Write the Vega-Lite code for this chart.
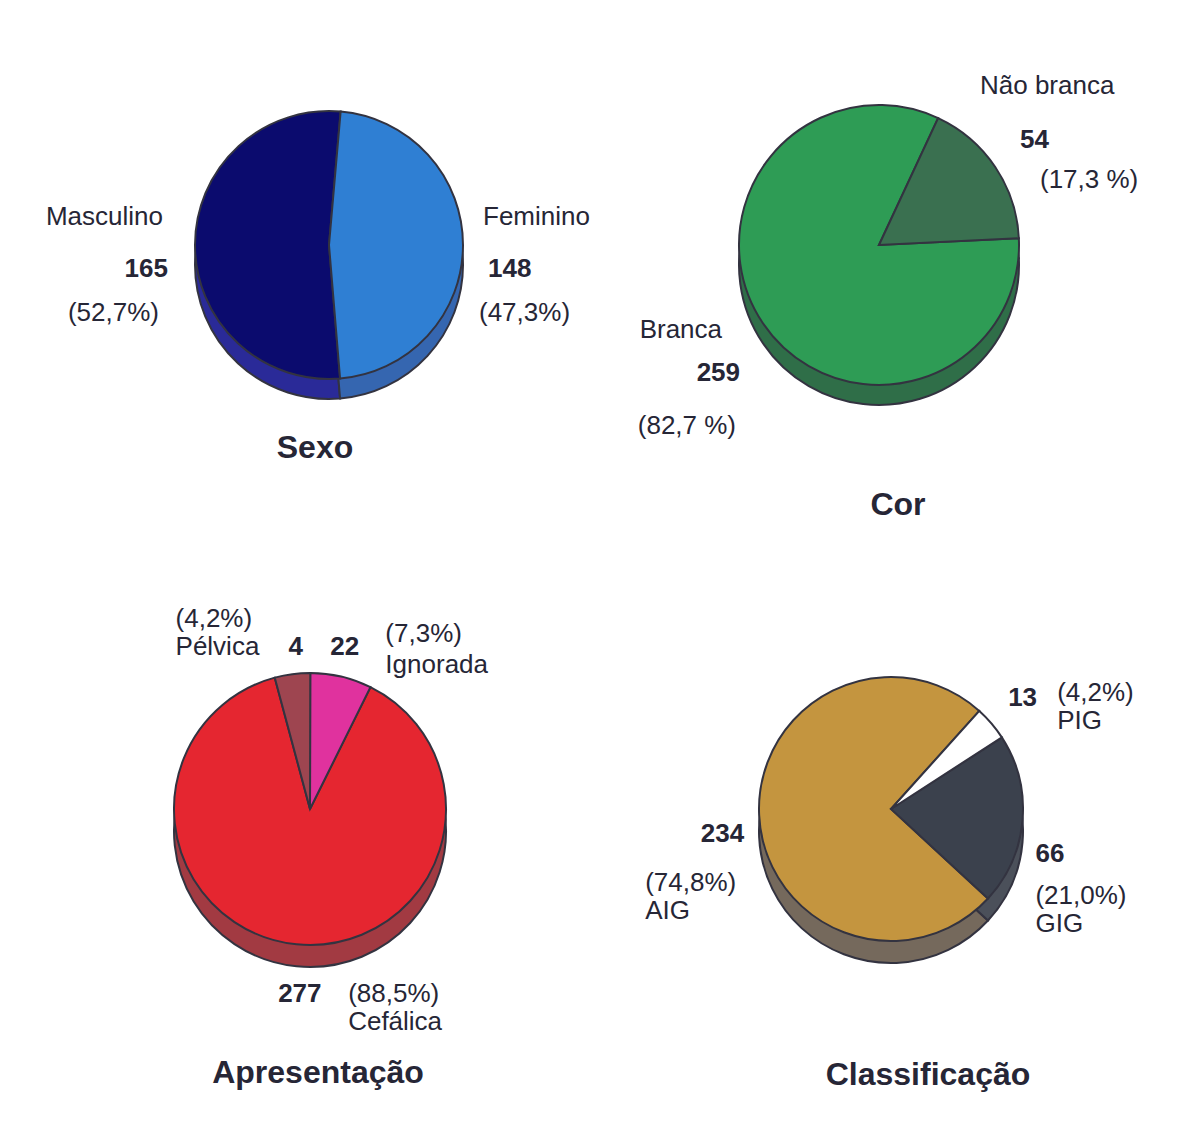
{
  "$schema": "https://vega.github.io/schema/vega-lite/v6.json",
  "padding": 0,
  "background": "white",
  "spacing": 0,
  "bounds": "flush",
  "align": "none",
  "columns": 2,
  "config": {"view": {"stroke": null}, "concat": {"spacing": 0}, "text": {"font": "Liberation Sans", "fontSize": 26, "color": "#262636", "baseline": "middle"}},
  "concat": [
        {
          "width": 658,
          "height": 490,
          "title": {"text": "Sexo", "orient": "bottom", "frame": "group", "offset": -42, "dx": -14, "baseline": "middle", "fontSize": 32, "font": "Liberation Sans", "fontWeight": "bold", "color": "#262636"},
          "data": {"values": [
            {"cat": "Masculino", "n": 165, "pct": 52.7, "pctLabel": "(52,7%)"},
            {"cat": "Feminino", "n": 148, "pct": 47.3, "pctLabel": "(47,3%)"}
          ]},
          "encoding": {
            "theta": {"field": "pct", "type": "quantitative", "stack": true, "scale": {"range": [0.087, 6.370]}},
            "order": {"field": "pct", "type": "quantitative", "sort": "ascending"},
            "detail": {"field": "cat", "type": "nominal"}
          },
          "layer": [
            {"mark": {"type": "arc", "radius": 134, "yOffset": 20, "stroke": "#333340", "strokeWidth": 2},
             "encoding": {"color": {"field": "cat", "type": "nominal", "scale": {"domain": ["Masculino", "Feminino"], "range": ["#2a2a98", "#3566b0"]}, "legend": null}}},
            {"mark": {"type": "arc", "radius": 134, "stroke": "#333340", "strokeWidth": 2},
             "encoding": {"color": {"field": "cat", "type": "nominal", "scale": {"domain": ["Masculino", "Feminino"], "range": ["#0b0b6e", "#2f7fd3"]}, "legend": null}}},
            {"mark": {"type": "text", "radius": 160, "dx": -6, "dy": -28, "align": {"expr": "datum.cat == 'Masculino' ? 'right' : 'left'"}},
             "encoding": {"text": {"field": "cat", "type": "nominal"}}},
            {"mark": {"type": "text", "radius": 160, "dx": -1, "dy": 24, "fontWeight": "bold", "align": {"expr": "datum.cat == 'Masculino' ? 'right' : 'left'"}},
             "encoding": {"text": {"field": "n", "type": "quantitative"}}},
            {"mark": {"type": "text", "radius": 160, "dx": -10, "dy": 68, "align": {"expr": "datum.cat == 'Masculino' ? 'right' : 'left'"}},
             "encoding": {"text": {"field": "pctLabel", "type": "nominal"}}}
          ],
          "resolve": {"scale": {"color": "independent"}}
        },
        {
          "width": 442,
          "height": 490,
          "title": {"text": "Cor", "orient": "bottom", "frame": "group", "offset": 15, "dx": 19, "baseline": "middle", "fontSize": 32, "font": "Liberation Sans", "fontWeight": "bold", "color": "#262636"},
          "data": {"values": [
            {"cat": "Branca", "n": 259, "pct": 82.7, "pctLabel": "(82,7 %)"},
            {"cat": "Não branca", "n": 54, "pct": 17.3, "pctLabel": "(17,3 %)"}
          ]},
          "encoding": {
            "theta": {"field": "pct", "type": "quantitative", "stack": true, "scale": {"range": [0.436, 6.719]}},
            "order": {"field": "pct", "type": "quantitative", "sort": "ascending"},
            "detail": {"field": "cat", "type": "nominal"}
          },
          "layer": [
            {"mark": {"type": "arc", "radius": 140, "yOffset": 20, "stroke": "#333340", "strokeWidth": 2},
             "encoding": {"color": {"field": "cat", "type": "nominal", "scale": {"domain": ["Branca", "Não branca"], "range": ["#2f6e48", "#2f5e44"]}, "legend": null}}},
            {"mark": {"type": "arc", "radius": 140, "stroke": "#333340", "strokeWidth": 2},
             "encoding": {"color": {"field": "cat", "type": "nominal", "scale": {"domain": ["Branca", "Não branca"], "range": ["#2e9c55", "#3a7050"]}, "legend": null}}},
            {"mark": {"type": "text", "radius": 165, "dx": {"expr": "datum.cat == 'Branca' ? -20 : -36"}, "dy": {"expr": "datum.cat == 'Branca' ? -7 : -67"}, "align": {"expr": "datum.cat == 'Branca' ? 'right' : 'left'"}},
             "encoding": {"text": {"field": "cat", "type": "nominal"}}},
            {"mark": {"type": "text", "radius": 165, "fontWeight": "bold", "dx": {"expr": "datum.cat == 'Branca' ? -2 : 4"}, "dy": {"expr": "datum.cat == 'Branca' ? 36 : -13"}, "align": {"expr": "datum.cat == 'Branca' ? 'right' : 'left'"}},
             "encoding": {"text": {"field": "n", "type": "quantitative"}}},
            {"mark": {"type": "text", "radius": 165, "dx": {"expr": "datum.cat == 'Branca' ? -6 : 24"}, "dy": {"expr": "datum.cat == 'Branca' ? 89 : 27"}, "align": {"expr": "datum.cat == 'Branca' ? 'right' : 'left'"}},
             "encoding": {"text": {"field": "pctLabel", "type": "nominal"}}}
          ],
          "resolve": {"scale": {"color": "independent"}}
        },
        {
          "width": 620,
          "height": 638,
          "title": {"text": "Apresentação", "orient": "bottom", "frame": "group", "offset": -55, "dx": 8, "baseline": "middle", "fontSize": 32, "font": "Liberation Sans", "fontWeight": "bold", "color": "#262636"},
          "data": {"values": [
            {"cat": "Cefálica", "n": 277, "pct": 88.5, "pctLabel": "(88,5%)"},
            {"cat": "Ignorada", "n": 22, "pct": 7.3, "pctLabel": "(7,3%)"},
            {"cat": "Pélvica", "n": 4, "pct": 4.2, "pctLabel": "(4,2%)"}
          ]},
          "encoding": {
            "theta": {"field": "pct", "type": "quantitative", "stack": true, "scale": {"range": [-0.262, 6.021]}},
            "order": {"field": "pct", "type": "quantitative", "sort": "ascending"},
            "detail": {"field": "cat", "type": "nominal"}
          },
          "layer": [
            {"mark": {"type": "arc", "radius": 136, "yOffset": 22, "stroke": "#333340", "strokeWidth": 2},
             "encoding": {"color": {"field": "cat", "type": "nominal", "scale": {"domain": ["Cefálica", "Ignorada", "Pélvica"], "range": ["#a23a42", "#8e3a46", "#8a3a44"]}, "legend": null}}},
            {"mark": {"type": "arc", "radius": 136, "stroke": "#333340", "strokeWidth": 2},
             "encoding": {"color": {"field": "cat", "type": "nominal", "scale": {"domain": ["Cefálica", "Ignorada", "Pélvica"], "range": ["#e52630", "#e0329e", "#9e4550"]}, "legend": null}}},
            {"mark": {"type": "text", "radius": 150, "dx": {"expr": "datum.cat == 'Pélvica' ? -115 : (datum.cat == 'Ignorada' ? 41 : 53)"}, "dy": {"expr": "datum.cat == 'Pélvica' ? -13 : (datum.cat == 'Ignorada' ? 2 : 64)"}, "align": "left"},
             "encoding": {"text": {"field": "cat", "type": "nominal"}}},
            {"mark": {"type": "text", "radius": 150, "fontWeight": "bold", "dx": {"expr": "datum.cat == 'Pélvica' ? -2 : (datum.cat == 'Ignorada' ? -14 : -17)"}, "dy": {"expr": "datum.cat == 'Pélvica' ? -13 : (datum.cat == 'Ignorada' ? -16 : 36)"}, "align": "left"},
             "encoding": {"text": {"field": "n", "type": "quantitative"}}},
            {"mark": {"type": "text", "radius": 150, "dx": {"expr": "datum.cat == 'Pélvica' ? -115 : (datum.cat == 'Ignorada' ? 41 : 53)"}, "dy": {"expr": "datum.cat == 'Pélvica' ? -41 : (datum.cat == 'Ignorada' ? -29 : 36)"}, "align": "left"},
             "encoding": {"text": {"field": "pctLabel", "type": "nominal"}}}
          ],
          "resolve": {"scale": {"color": "independent"}}
        },
        {
          "width": 466,
          "height": 638,
          "title": {"text": "Classificação", "orient": "bottom", "frame": "group", "offset": -53, "dx": 37, "baseline": "middle", "fontSize": 32, "font": "Liberation Sans", "fontWeight": "bold", "color": "#262636"},
          "data": {"values": [
            {"cat": "AIG", "n": 234, "pct": 74.8, "pctLabel": "(74,8%)"},
            {"cat": "GIG", "n": 66, "pct": 21.0, "pctLabel": "(21,0%)"},
            {"cat": "PIG", "n": 13, "pct": 4.2, "pctLabel": "(4,2%)"}
          ]},
          "encoding": {
            "theta": {"field": "pct", "type": "quantitative", "stack": true, "scale": {"range": [0.733, 7.016]}},
            "order": {"field": "pct", "type": "quantitative", "sort": "ascending"},
            "detail": {"field": "cat", "type": "nominal"}
          },
          "layer": [
            {"mark": {"type": "arc", "radius": 132, "yOffset": 22, "stroke": "#333340", "strokeWidth": 2},
             "encoding": {"color": {"field": "cat", "type": "nominal", "scale": {"domain": ["AIG", "GIG", "PIG"], "range": ["#75695c", "#4b505a", "#ffffff"]}, "legend": null}}},
            {"mark": {"type": "arc", "radius": 132, "stroke": "#333340", "strokeWidth": 2},
             "encoding": {"color": {"field": "cat", "type": "nominal", "scale": {"domain": ["AIG", "GIG", "PIG"], "range": ["#c4953f", "#3b414d", "#ffffff"]}, "legend": null}}},
            {"mark": {"type": "text", "radius": 150, "dx": {"expr": "datum.cat == 'PIG' ? 52 : (datum.cat == 'GIG' ? -5 : -96)"}, "dy": {"expr": "datum.cat == 'PIG' ? 9 : (datum.cat == 'GIG' ? 102 : 95)"}, "align": "left"},
             "encoding": {"text": {"field": "cat", "type": "nominal"}}},
            {"mark": {"type": "text", "radius": 150, "fontWeight": "bold", "dx": {"expr": "datum.cat == 'PIG' ? 3 : (datum.cat == 'GIG' ? -5 : 3)"}, "dy": {"expr": "datum.cat == 'PIG' ? -14 : (datum.cat == 'GIG' ? 32 : 18)"}, "align": {"expr": "datum.cat == 'AIG' ? 'right' : 'left'"}},
             "encoding": {"text": {"field": "n", "type": "quantitative"}}},
            {"mark": {"type": "text", "radius": 150, "dx": {"expr": "datum.cat == 'PIG' ? 52 : (datum.cat == 'GIG' ? -5 : -96)"}, "dy": {"expr": "datum.cat == 'PIG' ? -19 : (datum.cat == 'GIG' ? 74 : 67)"}, "align": "left"},
             "encoding": {"text": {"field": "pctLabel", "type": "nominal"}}}
          ],
          "resolve": {"scale": {"color": "independent"}}
        }
  ]
}
